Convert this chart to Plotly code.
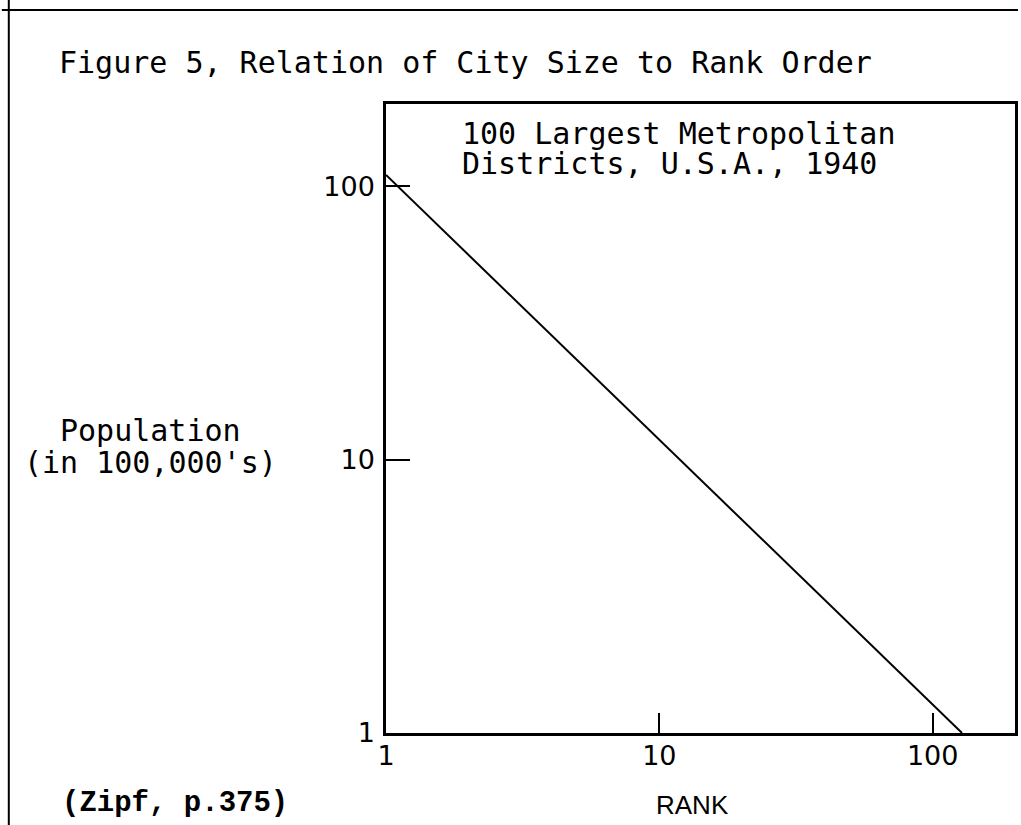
import plotly.graph_objects as go
import math

# Data (log-log Zipf line)
rank = [1, 128]
population = [110, 1]

x_tickvals = [1, 10, 100]
x_ticktext = ["1", "10", "100"]
y_tickvals = [1, 10, 100]
y_ticktext = ["1", "10", "100"]

title_text = "Figure 5, Relation of City Size to Rank Order"
inset_lines = ["100 Largest Metropolitan", "Districts, U.S.A., 1940"]
ylabel_lines = ["Population", "(in 100,000's)"]
xlabel_text = "RANK"
source_text = "(Zipf, p.375)"

W, H = 1021, 825
L, R, T, B = 386, 1018, 104, 733  # plot area pixel edges


def px(xp):
    return (xp - L) / (R - L)


def py(yp):
    return (B - yp) / (B - T)


mono = "DejaVu Sans Mono"
sans = "Liberation Sans, Arial"
tickfam = "DejaVu Sans"

fig = go.Figure()
fig.add_trace(go.Scatter(x=rank, y=population, mode="lines",
                         line=dict(color="black", width=2), hoverinfo="skip"))

axis_common = dict(type="log", showgrid=False, zeroline=False, showline=True,
                   linecolor="black", linewidth=2.5, mirror=True,
                   ticks="inside", tickcolor="black", tickwidth=2,
                   tickfont=dict(family=tickfam, size=27, color="black"))

fig.update_xaxes(range=[0, math.log10(200)], tickvals=x_tickvals, ticktext=x_ticktext,
                 ticklen=20, ticklabelstandoff=-3, **axis_common)
fig.update_yaxes(range=[0, math.log10(200)], tickvals=y_tickvals, ticktext=y_ticktext,
                 ticklen=24, ticklabelstandoff=3, **axis_common)

mono_font = dict(family=mono, size=30, color="black")
ann = []
ann.append(dict(x=px(55), y=py(63), text=title_text, xanchor="left", yanchor="middle",
                font=mono_font))
ann.append(dict(x=px(460), y=py(133), text=inset_lines[0], xanchor="left", yanchor="middle",
                font=mono_font))
ann.append(dict(x=px(460), y=py(163), text=inset_lines[1], xanchor="left", yanchor="middle",
                font=mono_font))
ann.append(dict(x=px(149), y=py(430), text=ylabel_lines[0], xanchor="center", yanchor="middle",
                font=mono_font))
ann.append(dict(x=px(149), y=py(462), text=ylabel_lines[1], xanchor="center", yanchor="middle",
                font=mono_font))
ann.append(dict(x=px(58), y=py(803), text=source_text, xanchor="left", yanchor="middle",
                font=dict(family="Liberation Mono", size=29, color="black", weight="bold")))
ann.append(dict(x=px(694), y=py(805), text=xlabel_text, xanchor="center", yanchor="middle",
                font=dict(family=sans, size=26, color="black")))
for a in ann:
    a.update(xref="paper", yref="paper", showarrow=False)

shapes = [
    dict(type="line", xref="paper", yref="paper", x0=px(0), x1=px(W), y0=py(10), y1=py(10),
         line=dict(color="black", width=2)),
    dict(type="line", xref="paper", yref="paper", x0=px(7), x1=px(7), y0=py(0), y1=py(H),
         line=dict(color="black", width=2)),
]

fig.update_layout(width=W, height=H, autosize=False,
                  margin=dict(l=L, r=W - R, t=T, b=H - B, pad=0),
                  paper_bgcolor="white", plot_bgcolor="white",
                  showlegend=False, annotations=ann, shapes=shapes)

fig.write_html("out.html", config={"displayModeBar": False},
               post_script="document.body.style.margin='0';document.body.style.overflow='hidden';")
